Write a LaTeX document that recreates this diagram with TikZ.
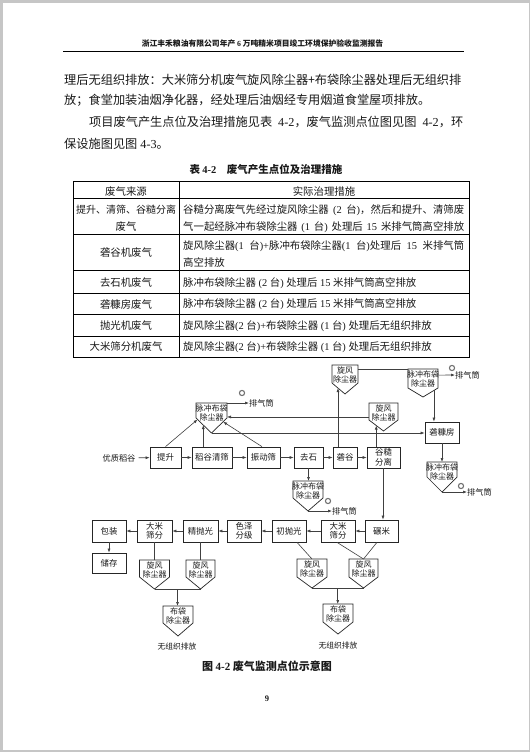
\documentclass[tikz,border=0pt]{standalone}
\usepackage{fontspec}
\setmainfont{Noto Sans CJK SC}
\newfontfamily\lat{Liberation Serif}
\newcommand\Lt[1]{{\lat #1}}
\usetikzlibrary{arrows.meta,calc}
\XeTeXlinebreaklocale "zh"
\XeTeXlinebreakskip=0pt plus 4pt
\tikzset{
  every node/.style={inner sep=0pt, text=black!90},
  box/.style={draw=black!85, line width=0.7pt, minimum height=21pt, font=\fontsize{8.4}{9.4}\selectfont, align=center},
  fbox/.style={draw=black!85, line width=0.7pt},
  ln/.style={draw=black!75, line width=0.6pt},
  arr/.style={ln, -{Latex[length=4pt,width=3pt]}},
  lbl/.style={font=\fontsize{8.2}{9}\selectfont},
  ftxt/.style={font=\fontsize{8}{9}\selectfont, align=center},
  mon/.style={draw=black!55, line width=1.1pt},
  body/.style={anchor=west, font=\fontsize{12.2}{14}\selectfont},
  tab/.style={font=\fontsize{10.4}{12}\selectfont},
  tline/.style={draw=black, line width=0.7pt}
}
\newcommand\dustf[7]{%
  \path (#2,#3) coordinate (#1-nw) ++(#4,0) coordinate (#1-ne)
        ++(0,#5) coordinate (#1-se) ++({-#4/2},#6) coordinate (#1-tip)
        ++({-#4/2},{-#6}) coordinate (#1-sw);
  \draw[fbox] (#1-nw) -- (#1-sw) -- (#1-tip) -- (#1-se) -- (#1-ne) -- cycle;
  \node[ftxt, anchor=north] (#1) at ($(#1-nw)!0.5!(#1-ne)+(0,1.2)$) {#7};
}
\begin{document}
\begin{tikzpicture}[x=1pt,y=-1pt]
\useasboundingbox (0,0) rectangle (530,752);
\fill[gray!45] (0,0) rectangle (530,752);
\fill[white] (2.5,3) rectangle (528.5,749.5);

% header
\node[font=\fontsize{7.8}{9}\selectfont\bfseries] (hd) at (262.5,44) {浙江丰禾粮油有限公司年产 \Lt{6} 万吨精米项目竣工环境保护验收监测报告};
\draw[line width=0.9pt] (63,51) -- (464,51);

% body text
\node[body] (l1) at (64,80) {\hbox to 399pt{理后无组织排放：大米筛分机废气旋风除尘器+布袋除尘器处理后无组织排}};
\node[body] (l2) at (64,100) {放；食堂加装油烟净化器，经处理后油烟经专用烟道食堂屋项排放。};
\node[body] (l3) at (89,122) {\hbox to 374pt{项目废气产生点位及治理措施见表\Lt{ 4-2}，废气监测点位图见图\Lt{ 4-2}，环}};
\node[body] (l4) at (64,144) {保设施图见图\Lt{ 4-3}。};

% table
\node[font=\fontsize{10.5}{12}\selectfont\bfseries] (tcap) at (266,169) {表 \Lt{4-2}\quad 废气产生点位及治理措施};
\draw[tline] (73,181) rectangle (469,357);
\draw[tline] (179,181) -- (179,357);
\foreach \yy in {198,234,270,293,314,336} \draw[tline] (73,\yy) -- (469,\yy);
\node[tab] (h1) at (126,192) {废气来源};
\node[tab] (h2) at (324,192) {实际治理措施};
\node[tab, font=\fontsize{10}{12}\selectfont] (a1) at (126,210) {提升、清筛、谷糙分离};
\node[tab] (a1b) at (126,227) {废气};
\node[tab, anchor=west] (b1) at (183,210) {\hbox to 281pt{谷糙分离废气先经过旋风除尘器\Lt{ (2 }台\Lt{)}，然后和提升、清筛废}};
\node[tab, anchor=west] (b1b) at (183,227) {\hbox to 281pt{气一起经脉冲布袋除尘器\Lt{ (1 }台\Lt{) }处理后\Lt{ 15 }米排气筒高空排放}};
\node[tab] (a2) at (126,253) {砻谷机废气};
\node[tab, anchor=west] (b2) at (183,246) {\hbox to 281pt{旋风除尘器\Lt{(1 }台\Lt{)+}脉冲布袋除尘器\Lt{(1 }台\Lt{)}处理后\Lt{ 15 }米排气筒}};
\node[tab, anchor=west] (b2b) at (183,263) {高空排放};
\node[tab] (a3) at (126,283) {去石机废气};
\node[tab, anchor=west] (b3) at (183,283) {脉冲布袋除尘器\Lt{ (2 }台\Lt{) }处理后\Lt{ 15 }米排气筒高空排放};
\node[tab] (a4) at (126,304) {砻糠房废气};
\node[tab, anchor=west] (b4) at (183,304) {脉冲布袋除尘器\Lt{ (2 }台\Lt{) }处理后\Lt{ 15 }米排气筒高空排放};
\node[tab] (a5) at (126,326) {抛光机废气};
\node[tab, anchor=west] (b5) at (183,326) {旋风除尘器\Lt{(2 }台\Lt{)+}布袋除尘器\Lt{ (1 }台\Lt{) }处理后无组织排放};
\node[tab] (a6) at (126,347) {大米筛分机废气};
\node[tab, anchor=west] (b6) at (183,347) {旋风除尘器\Lt{(2 }台\Lt{)+}布袋除尘器\Lt{ (1 }台\Lt{) }处理后无组织排放};

% ---------- diagram ----------
\node[lbl] (yzdg) at (119,458) {优质稻谷};
\node[box, minimum width=31pt] (ts) at (165.5,457.5) {提升};
\node[box, minimum width=40pt] (dgqs) at (212,457.5) {稻谷清筛};
\node[box, minimum width=33pt] (zds) at (263.5,457.5) {振动筛};
\node[box, minimum width=29pt] (qs) at (308.5,457.5) {去石};
\node[box, minimum width=24pt] (lg) at (345,457.5) {砻谷};
\node[box, minimum width=33pt] (gcfl) at (383.5,457.5) {谷糙\\分离};
\node[box, minimum width=34pt] (lkf) at (442,432.5) {砻糠房};
\node[box, minimum width=33pt, minimum height=22pt] (nm) at (381.5,531) {碾米};
\node[box, minimum width=34pt, minimum height=22pt] (dmR) at (338,531) {大米\\筛分};
\node[box, minimum width=34pt, minimum height=22pt] (cpg) at (289,531) {初抛光};
\node[box, minimum width=34pt, minimum height=22pt] (szfj) at (244,531) {色泽\\分级};
\node[box, minimum width=35pt, minimum height=22pt] (jpg) at (200.5,531) {精抛光};
\node[box, minimum width=35pt, minimum height=22pt] (dmL) at (154.5,531) {大米\\筛分};
\node[box, minimum width=34pt, minimum height=22pt] (bz) at (109,531) {包装};
\node[box, minimum width=34pt, minimum height=20pt] (cc) at (109,563) {储存};

\dustf{P1}{196}{403}{31}{15}{15}{脉冲布袋\\除尘器}
\dustf{C1}{332}{365}{26}{18}{11}{旋风\\除尘器}
\dustf{C2}{369}{403}{29}{17}{11}{旋风\\除尘器}
\dustf{P2}{408}{369}{30}{19}{9}{脉冲布袋\\除尘器}
\dustf{P3}{427}{462}{30}{15}{15}{脉冲布袋\\除尘器}
\dustf{P4}{293}{481}{30}{17}{13}{脉冲布袋\\除尘器}
\dustf{L1}{139.5}{560}{30}{17}{12}{旋风\\除尘器}
\dustf{L2}{186}{560}{29}{17}{12}{旋风\\除尘器}
\dustf{LB}{163}{606}{30}{17}{13}{布袋\\除尘器}
\dustf{R1}{297}{559}{30}{18}{11}{旋风\\除尘器}
\dustf{R2}{349}{559}{29}{18}{11}{旋风\\除尘器}
\dustf{RB}{323}{604}{30}{18}{12}{布袋\\除尘器}

\node[lbl, anchor=west] (pq1) at (249,403) {排气筒};
\node[lbl, anchor=west] (pq2) at (455,375) {排气筒};
\node[lbl, anchor=west] (pq3) at (467,492) {排气筒};
\node[lbl, anchor=west] (pq4) at (332,511) {排气筒};
\node[font=\fontsize{7.8}{9}\selectfont] (wz1) at (177,647) {无组织排放};
\node[font=\fontsize{7.8}{9}\selectfont] (wz2) at (338,646) {无组织排放};

% main chain
\draw[arr, shorten <=3pt] (yzdg) -- (ts);
\draw[arr] (ts) -- (dgqs);
\draw[arr] (dgqs) -- (zds);
\draw[arr] (zds) -- (qs);
\draw[arr] (qs) -- (lg);
\draw[arr] (lg) -- (gcfl);
% to P1
\draw[arr] (ts.north) -- ($(P1-sw)!0.1!(P1-tip)$);
\coordinate (p1a) at ($(P1-sw)!0.47!(P1-tip)$);
\draw[arr] (p1a |- dgqs.north) -- (p1a);
\draw[arr] ($(zds.north)+(-1.5,0)$) -- ($(P1-se)!0.25!(P1-tip)$);
\coordinate (c2l) at ($(C2-nw)!0.82!(C2-sw)$);
\draw[arr] (c2l) -- (c2l -| P1-ne);
\draw[arr] (P1-ne) -- (pq1.west);
\draw[arr] (P1-tip) -- (P1-tip -| lkf.west);
% C2
\coordinate (c2a) at ($(C2-sw)!0.5!(C2-tip)$);
\draw[arr] (c2a |- gcfl.north) -- (c2a);
% C1, P2
\coordinate (c1a) at ($(C1-sw)!0.46!(C1-tip)$);
\draw[arr] (c1a |- lg.north) -- (c1a);
\coordinate (c1r) at ($(C1-ne)!0.22!(C1-se)$);
\draw[ln] (c1r) -- (c1r -| P2-nw);
\coordinate (p2r) at ($(P2-ne)!0.32!(P2-se)$);
\draw[arr] (p2r) -- (pq2.west);
\coordinate (p2a) at ($(P2-se)!0.27!(P2-tip)$);
\draw[arr] (p2a) -- (p2a |- lkf.north);
% 砻糠房 -> P3
\draw[arr] (lkf.south) -- (lkf.south |- P3-nw);
\draw[arr] (P3-tip) -- (pq3.west);
% 去石 -> P4
\draw[arr] (qs.south) -- (qs.south |- P4-nw);
\draw[arr] (P4-tip) -- (pq4.west);
% 谷糙分离 -> 碾米
\draw[arr] (gcfl.south -| nm.north) ++(1.5,0) coordinate (g0) (g0) -- (g0 |- nm.north);
% lower chain
\draw[arr] (nm) -- (dmR);
\draw[arr] (dmR) -- (cpg);
\draw[arr] (cpg) -- (szfj);
\draw[arr] (szfj) -- (jpg);
\draw[arr] (jpg) -- (dmL);
\draw[arr] (dmL) -- (bz);
\draw[arr] (bz) -- (cc);
% left dust
\draw[ln] (dmL.south) -- (dmL.south |- L1-nw);
\draw[ln] (jpg.south) -- (jpg.south |- L2-nw);
\draw[ln] (L1-tip) -- (L2-tip);
\coordinate (lm) at ($(L1-tip)!0.5!(L2-tip)$);
\draw[arr] (lm) -- (lm |- LB-nw);
% right dust
\draw[ln] ($(cpg.south)+(8,0)$) -- ($(R1-nw)!0.5!(R1-ne)$);
\draw[ln] ($(dmR.south)+(-1,0)$) -- ($(R2-nw)!0.5!(R2-ne)$);
\draw[ln] ($(nm.south)+(-4.5,0)$) -- ($(R2-nw)!0.5!(R2-ne)$);
\draw[ln] (R1-tip) -- (R2-tip);
\coordinate (rm) at ($(R1-tip)!0.5!(R2-tip)$);
\draw[arr] (rm) -- (rm |- RB-nw);

% monitoring points
\draw[mon] (242,393) circle[radius=2.6];
\draw[mon] (452,368) circle[radius=2.6];
\draw[mon] (461,486) circle[radius=2.6];
\draw[mon] (328,501) circle[radius=2.6];

% caption & page number
\node[font=\fontsize{11}{13}\selectfont\bfseries] (fcap) at (267,666) {图 \Lt{4-2} 废气监测点位示意图};
\node[font=\fontsize{8.5}{10}\selectfont\lat\bfseries] (pg) at (267,699) {9};
\end{tikzpicture}
\end{document}
